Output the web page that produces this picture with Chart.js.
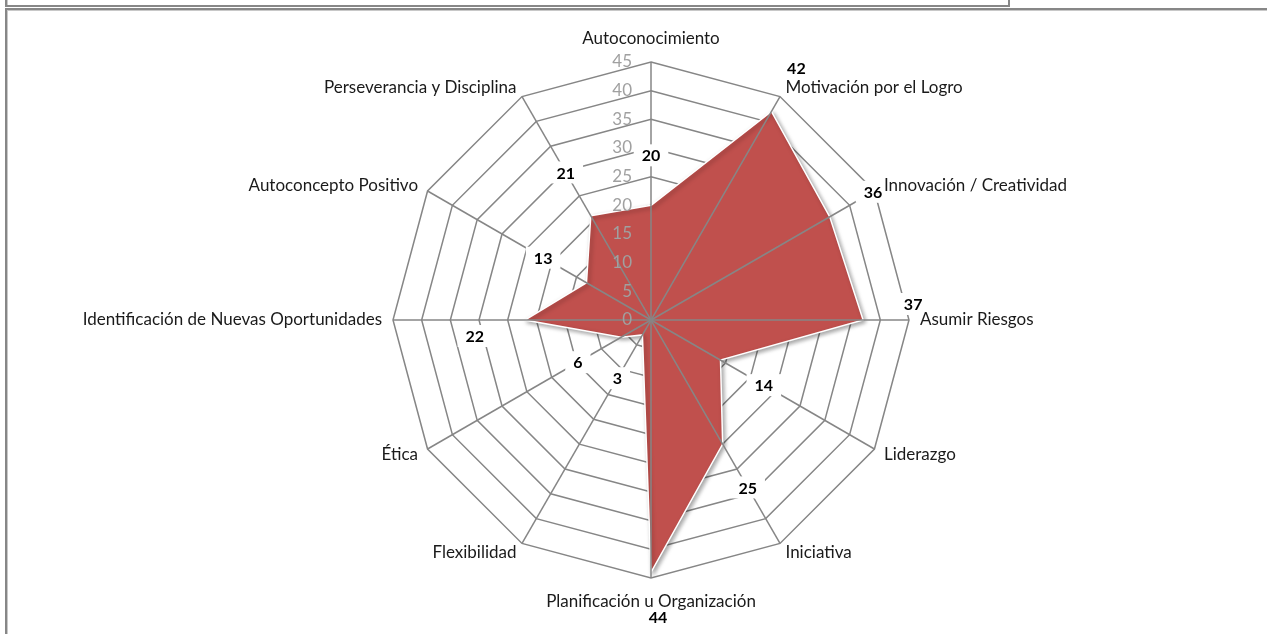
<!DOCTYPE html>
<html>
<head>
<meta charset="utf-8">
<script src="https://cdn.jsdelivr.net/npm/chart.js@4"></script>
<style>
  html, body { margin: 0; padding: 0; background: #fff; overflow: hidden; }
  body { width: 1267px; height: 634px; position: relative; }
  .caja-sup { position: absolute; left: 5px; top: -10px; width: 1001px; height: 13px;
    border: 2px solid #878787; box-shadow: inset 1px 1px 0 #c8c8c8; }
  .marco { position: absolute; left: 5px; top: 8px; width: 2000px; height: 2000px;
    border-left: 2px solid #878787; border-top: 2px solid #878787; box-shadow: inset 1px 1px 0 #c8c8c8; }
  canvas { position: absolute; left: 0; top: 0; }
</style>
</head>
<body>
<div class="caja-sup"></div>
<div class="marco"></div>
<canvas id="grafico" width="1267" height="634"></canvas>
<script>
const categorias = ['Autoconocimiento', 'Motivación por el Logro', 'Innovación / Creatividad', 'Asumir Riesgos',
  'Liderazgo', 'Iniciativa', 'Planificación u Organización', 'Flexibilidad', 'Ética',
  'Identificación de Nuevas Oportunidades', 'Autoconcepto Positivo', 'Perseverancia y Disciplina'];
const puntajes = [20, 42, 36, 37, 14, 25, 44, 3, 6, 22, 13, 21];
const escalaMin = 0;
const escalaMax = 45;
const paso = 5;

const fuente = 'Lato, "Open Sans", sans-serif';
const gris = '#868686';

const capas = {
  id: 'capas',
  beforeDatasetsDraw(chart) {
    const ctx = chart.ctx;
    ctx.save();
    ctx.shadowColor = 'rgba(0,0,0,0.35)';
    ctx.shadowBlur = 4;
    ctx.shadowOffsetX = 2;
    ctx.shadowOffsetY = 2;
  },
  afterDatasetsDraw(chart) {
    const ctx = chart.ctx;
    ctx.restore();
    const r = chart.scales.r;
    const n = chart.data.labels.length;
    ctx.save();

    // ejes radiales por encima del relleno
    ctx.strokeStyle = gris;
    ctx.lineWidth = 1.5;
    for (let i = 0; i < n; i++) {
      const p = r.getPointPosition(i, r.drawingArea);
      ctx.beginPath();
      ctx.moveTo(r.xCenter, r.yCenter);
      ctx.lineTo(p.x, p.y);
      ctx.stroke();
    }

    // valores del eje
    ctx.font = '17px ' + fuente;
    ctx.fillStyle = '#a0a0a0';
    ctx.textAlign = 'right';
    ctx.textBaseline = 'middle';
    r.ticks.forEach(t => {
      const d = r.getDistanceFromCenterForValue(t.value);
      ctx.fillText(t.label, r.xCenter - 19, r.yCenter - d);
    });

    // etiquetas de datos
    ctx.font = 'bold 16px ' + fuente;
    ctx.textAlign = 'center';
    const datos = chart.data.datasets[0].data;
    for (let i = 0; i < n; i++) {
      const ang = Math.round(r.getIndexAngle(i) * 180 / Math.PI) % 360;
      const p = r.getPointPosition(i, r.getDistanceFromCenterForValue(datos[i]) + 50);
      let x = p.x, y = p.y;
      if (ang === 90) y -= 16;
      if (ang === 270) y += 16;
      if (ang === 180) { x += 7; y -= 5; }
      const txt = String(datos[i]);
      const w = ctx.measureText(txt).width;
      ctx.fillStyle = '#fff';
      ctx.fillRect(x - w / 2 - 8, y - 11, w + 16, 22);
      ctx.fillStyle = '#000';
      ctx.fillText(txt, x, y + 1);
    }

    // nombres de categorias
    ctx.font = '17px ' + fuente;
    ctx.fillStyle = '#1a1a1a';
    for (let i = 0; i < n; i++) {
      const ang = Math.round(r.getIndexAngle(i) * 180 / Math.PI) % 360;
      const p = r.getPointPosition(i, r.drawingArea + 11);
      let y = p.y;
      if (ang === 0) { ctx.textAlign = 'center'; y -= 12; }
      else if (ang === 180) { ctx.textAlign = 'center'; y += 13; }
      else if (ang < 180) ctx.textAlign = 'left';
      else ctx.textAlign = 'right';
      ctx.fillText(chart.data.labels[i], p.x, y);
    }
    ctx.restore();
  }
};

new Chart(document.getElementById('grafico'), {
  type: 'radar',
  data: {
    labels: categorias,
    datasets: [{
      label: 'Puntaje',
      data: puntajes,
      backgroundColor: '#C0504D',
      borderColor: '#ffffff',
      borderWidth: 1.5,
      fill: true,
      pointRadius: 0,
      pointHoverRadius: 0
    }]
  },
  options: {
    responsive: false,
    animation: false,
    layout: { padding: { left: 393, right: 358, top: 62, bottom: 56 } },
    plugins: {
      legend: { display: false },
      tooltip: { enabled: false }
    },
    scales: {
      r: {
        min: escalaMin,
        max: escalaMax,
        ticks: { stepSize: paso, display: false },
        grid: { color: gris, lineWidth: 1.5 },
        angleLines: { display: false },
        pointLabels: { display: false }
      }
    }
  },
  plugins: [capas]
});
</script>
</body>
</html>
